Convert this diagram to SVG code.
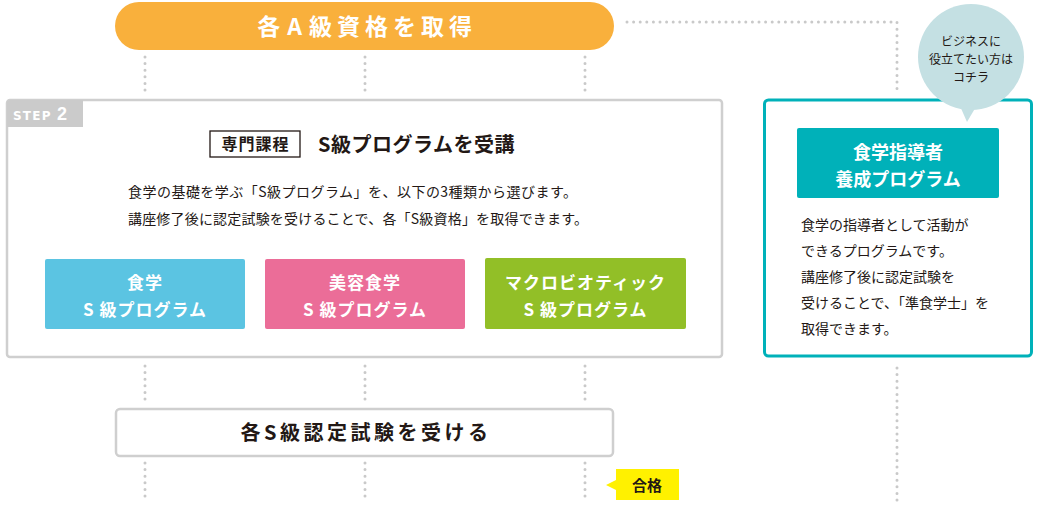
<svg xmlns="http://www.w3.org/2000/svg" width="1040" height="505" viewBox="0 0 1040 505">
<style>
.dot{fill:none;stroke:#c9c9c9;stroke-width:3;stroke-linecap:round;stroke-dasharray:0 6.6}
.jp{font-family:"Noto Sans CJK JP","Noto Sans",sans-serif}
.b{font-weight:bold}
.w{fill:#fff}
.k{fill:#231815}
.btn{font-size:17px;letter-spacing:1px}
</style>
<rect width="1040" height="505" fill="#fff"/>
<g id="connectors">
<path class="dot" d="M627 22H897V93"/>
<path class="dot" d="M145 57V95M365 57V95M585 57V95"/>
<path class="dot" d="M145 366V402M365 366V402M585 366V402"/>
<path class="dot" d="M145 463V500M365 463V500M585 463V500"/>
<path class="dot" d="M897 368V505"/>
</g>
<g id="a-kyu">
<rect x="115" y="2" width="499" height="48" rx="24" fill="#f9b03c"/>
<text x="367" y="35" text-anchor="middle" class="jp b w" font-size="23" letter-spacing="5">各<tspan dx="2">A</tspan><tspan dx="2">級資格を取得</tspan></text>
</g>
<g id="step2">
<rect x="7" y="100" width="715" height="257" rx="3" fill="#fff" stroke="#cfcfcf" stroke-width="2.5"/>
<path d="M7 103a3 3 0 0 1 3-3H83V127H7Z" fill="#cbcbcb"/>
<text x="13" y="120" class="b w" font-family="DejaVu Sans,Verdana,sans-serif" font-size="12" letter-spacing="1.2">STEP <tspan font-size="18" font-family="Liberation Sans,Arial,sans-serif">2</tspan></text>
<rect x="210" y="131" width="90" height="26" fill="#fff" stroke="#231815" stroke-width="1.3"/>
<text x="255.5" y="150" text-anchor="middle" class="jp b k" font-size="16" letter-spacing="1">専門課程</text>
<text x="318" y="152" class="jp b k" font-size="20" letter-spacing="0.5">S級プログラムを受講</text>
<text x="128" y="197" class="jp k" font-size="14" textLength="449" lengthAdjust="spacing">食学の基礎を学ぶ「S級プログラム」を、以下の3種類から選びます。</text>
<text x="128" y="224" class="jp k" font-size="14" textLength="460" lengthAdjust="spacing">講座修了後に認定試験を受けることで、各「S級資格」を取得できます。</text>
</g>
<g id="prog-shokugaku">
<rect x="45" y="259" width="200" height="70" rx="2" fill="#5bc4e2"/>
<text x="145" y="289" text-anchor="middle" class="jp b w btn">食学</text>
<text x="145" y="316" text-anchor="middle" class="jp b w btn">S 級プログラム</text>
</g>
<g id="prog-biyou">
<rect x="265" y="259" width="200" height="70" rx="2" fill="#eb6d98"/>
<text x="365" y="289" text-anchor="middle" class="jp b w btn">美容食学</text>
<text x="365" y="316" text-anchor="middle" class="jp b w btn">S 級プログラム</text>
</g>
<g id="prog-macro">
<rect x="485" y="258" width="201" height="71" rx="2" fill="#92bf27"/>
<text x="585.5" y="289" text-anchor="middle" class="jp b w btn">マクロビオティック</text>
<text x="585.5" y="316" text-anchor="middle" class="jp b w btn">S 級プログラム</text>
</g>
<g id="s-exam">
<rect x="116" y="409" width="497" height="47" rx="4" fill="#fff" stroke="#cfcfcf" stroke-width="2.5"/>
<text x="366" y="440" text-anchor="middle" class="jp b k" font-size="20" letter-spacing="3.5">各S級認定試験を受ける</text>
</g>
<g id="goukaku">
<path d="M616 469H679V500H616V490L606 485L616 480Z" fill="#fff100"/>
<text x="647" y="491" text-anchor="middle" class="jp b k" font-size="15">合格</text>
</g>
<g id="leader">
<rect x="764.5" y="100" width="267" height="256" rx="4" fill="#fff" stroke="#00b1b9" stroke-width="3"/>
<rect x="797" y="128" width="202" height="70" rx="2" fill="#00b1b9"/>
<text x="898" y="159" text-anchor="middle" class="jp b w" font-size="18">食学指導者</text>
<text x="898" y="186" text-anchor="middle" class="jp b w" font-size="18">養成プログラム</text>
<text x="801" y="230" class="jp k" font-size="14">食学の指導者として活動が</text>
<text x="801" y="256" class="jp k" font-size="14">できるプログラムです。</text>
<text x="801" y="282" class="jp k" font-size="14">講座修了後に認定試験を</text>
<text x="801" y="308" class="jp k" font-size="14">受けることで、「準食学士」を</text>
<text x="801" y="334" class="jp k" font-size="14">取得できます。</text>
</g>
<g id="bubble">
<circle cx="971" cy="57" r="53" fill="#c4e0e3"/>
<path d="M960 106L967 122L977 105Z" fill="#c4e0e3"/>
<text x="971" y="46" text-anchor="middle" class="jp k" font-size="12">ビジネスに</text>
<text x="971" y="64" text-anchor="middle" class="jp k" font-size="12">役立てたい方は</text>
<text x="971" y="82" text-anchor="middle" class="jp k" font-size="12">コチラ</text>
</g>
</svg>
